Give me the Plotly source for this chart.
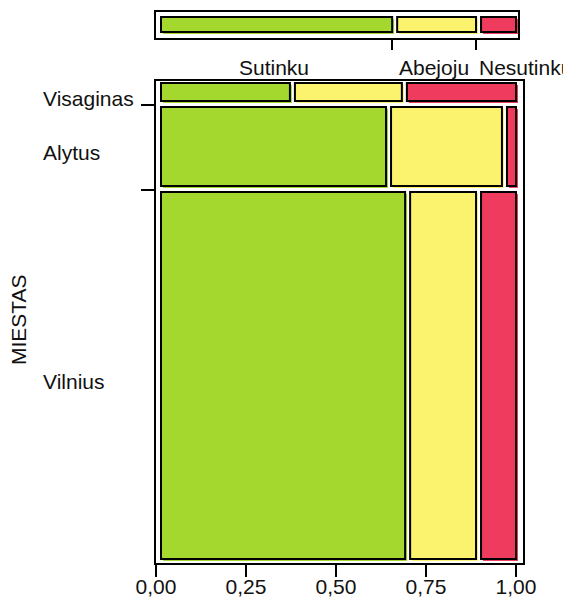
import plotly.graph_objects as go

# rows (MIESTAS) from top to bottom and their share of all answers
cities = ["Visaginas", "Alytus", "Vilnius"]
city_share = [0.050, 0.176, 0.774]

# answer categories and their share inside each city
answers = ["Sutinku", "Abejoju", "Nesutinku"]
share_visaginas = [0.372, 0.311, 0.317]
share_alytus = [0.639, 0.322, 0.039]
share_vilnius = [0.692, 0.197, 0.111]
share_total = [0.656, 0.233, 0.111]

x_ticks = [0, 0.25, 0.5, 0.75, 1.0]

colors = ["#a4d82e", "#fbf26e", "#ef3b5d"]
FONT = "Liberation Sans, Arial, sans-serif"
FS = 21

# the page body keeps its default 8px margin, so the figure starts at (8, 8)
OFF = 8
W, H = 571 - OFF, 600 - OFF


def px(p):
    return (p - OFF) / W


def py(p):
    return 1 - (p - OFF) / H


px_x = 1 / 360          # data units per pixel on x
px_y = 1 / 482          # main y
px_y2 = 1 / 26          # top bar y

fig = go.Figure()
shapes = []


def cell(x0, x1, y0, y1, color, xref, yref, sx, sy):
    # colored shadow first, then the bordered cell on top
    shapes.append(dict(type="rect", xref=xref, yref=yref,
                       x0=x0 + 2 * sx, x1=x1 + 2 * sx, y0=y0 + 2 * sy, y1=y1 + 2 * sy,
                       fillcolor=color, line=dict(width=0), layer="above"))
    shapes.append(dict(type="rect", xref=xref, yref=yref,
                       x0=x0, x1=x1, y0=y0, y1=y1,
                       fillcolor=color, line=dict(color="black", width=2), layer="above"))


rows = [share_visaginas, share_alytus, share_vilnius]
y_start = 0
row_bounds = []
for name, h, shares in zip(cities, city_share, rows):
    x_start = 0
    for s, c in zip(shares, colors):
        cell(x_start + 5 * px_x, x_start + s, y_start + 2 * px_y, y_start + h - 4 * px_y,
             c, "x", "y", px_x, px_y)
        x_start += s
    fig.add_annotation(x=px(41), xref="paper", xanchor="left", y=y_start + h / 2, yref="y",
                       yanchor="middle", yshift=-5, text=name, showarrow=False,
                       font=dict(family=FONT, size=FS, color="#111"))
    y_start += h
    row_bounds.append(y_start)

# marginal bar on top
x_start = 0
col_bounds = []
for i, (name, s, c) in enumerate(zip(answers, share_total, colors)):
    cell(x_start + 5 * px_x, x_start + s, 5 * px_y2, 20 * px_y2, c, "x2", "y2", px_x, px_y2)
    if i < len(answers) - 1:
        fig.add_annotation(x=x_start + s / 2, xref="x", xanchor="center", y=py(67),
                           yref="paper", yanchor="middle", text=name, showarrow=False,
                           font=dict(family=FONT, size=FS, color="#111"))
    else:
        fig.add_annotation(x=x_start, xref="x", xanchor="left", xshift=1, y=py(67),
                           yref="paper", yanchor="middle", text=name, showarrow=False,
                           font=dict(family=FONT, size=FS, color="#111"))
    x_start += s
    col_bounds.append(x_start)

fig.add_annotation(x=px(19), xref="paper", xanchor="center", y=py(320), yref="paper",
                   yanchor="middle", text="MIESTAS", textangle=-90, showarrow=False,
                   font=dict(family=FONT, size=FS, color="#111"))

# invisible traces so both subplots exist
fig.add_trace(go.Scatter(x=[0], y=[0], mode="markers", opacity=0, hoverinfo="skip",
                         showlegend=False, xaxis="x", yaxis="y"))
fig.add_trace(go.Scatter(x=[0], y=[0], mode="markers", opacity=0, hoverinfo="skip",
                         showlegend=False, xaxis="x2", yaxis="y2"))

axis_line = dict(showline=True, linecolor="black", linewidth=2, mirror=True,
                 showgrid=False, zeroline=False, automargin=False)

fig.update_layout(
    width=W, height=H,
    margin=dict(l=0, r=0, t=0, b=0, autoexpand=False),
    paper_bgcolor="white", plot_bgcolor="white",
    separators=", ",
    shapes=shapes,
    xaxis=dict(domain=[px(156), px(523)], range=[0, 367 / 360], tickvals=x_ticks,
               tickformat=".2f", ticks="outside", ticklen=12, tickwidth=2, tickcolor="black",
               ticklabelstandoff=-8,
               tickfont=dict(family=FONT, size=FS, color="#111"), **axis_line),
    yaxis=dict(domain=[py(563), py(81)], range=[1, 0], tickvals=row_bounds[:-1],
               ticks="outside", ticklen=13, tickwidth=2, tickcolor="black",
               showticklabels=False, **axis_line),
    xaxis2=dict(domain=[px(156), px(518)], range=[0, 362 / 360], anchor="y2",
                tickvals=col_bounds[:-1], ticks="outside", ticklen=10, tickwidth=2,
                tickcolor="black", showticklabels=False, **axis_line),
    yaxis2=dict(domain=[py(38), py(12)], range=[1, 0], anchor="x2",
                showticklabels=False, ticks="", **axis_line),
)

fig.write_html("out.html")
